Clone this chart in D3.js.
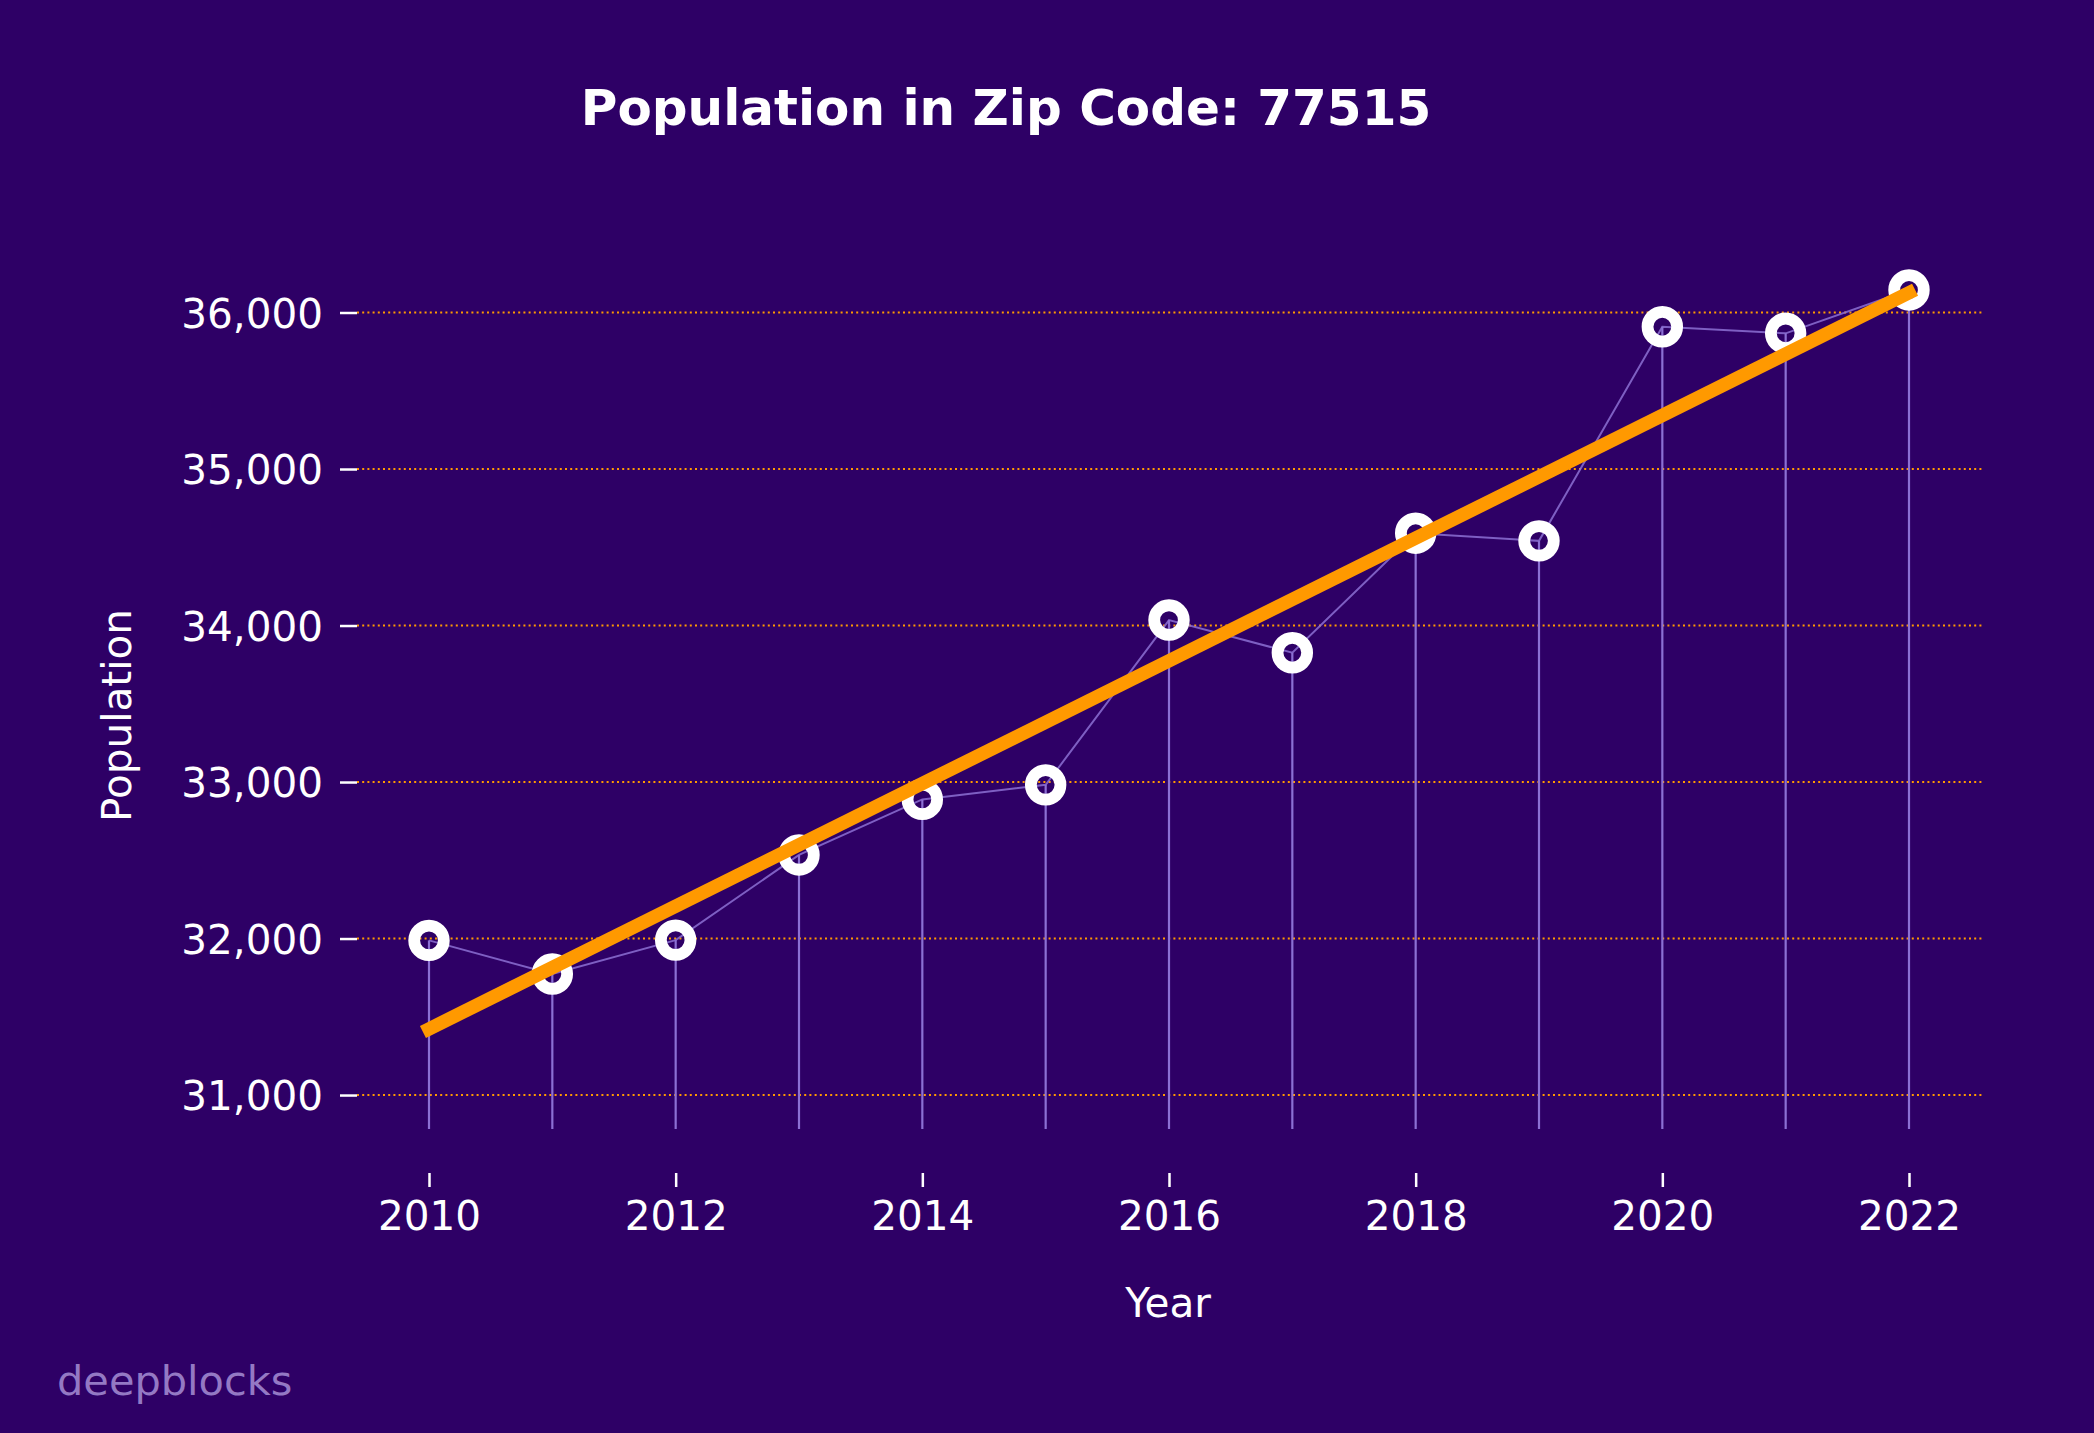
<!DOCTYPE html>
<html>
<head>
<meta charset="utf-8">
<script src="https://cdn.jsdelivr.net/npm/d3@7"></script>
<style>
  html, body { margin: 0; padding: 0; background: #2e0066; }
  svg { display: block; }
  text { font-family: "DejaVu Sans", sans-serif; }
</style>
</head>
<body>
<svg id="chart" width="2094" height="1433"></svg>
<script>
// ---- data ----
const years = [2010, 2011, 2012, 2013, 2014, 2015, 2016, 2017, 2018, 2019, 2020, 2021, 2022];
const population = [31988, 31773, 31990, 32534, 32889, 32982, 34035, 33826, 34590, 34541, 35909, 35867, 36144];
const yTickValues = [31000, 32000, 33000, 34000, 35000, 36000];
const xTickValues = [2010, 2012, 2014, 2016, 2018, 2020, 2022];
const titleText = "Population in Zip Code: 77515";
const xLabel = "Year";
const yLabel = "Population";
const watermark = "deepblocks";

// ---- layout ----
const W = 2094, H = 1433;
const plot = { left: 355, right: 1983, top: 218.6, bottom: 1129 };
const bg = "#2e0066";
const orange = "#ff9900";
const stemColor = "#8c70d4";
const fs = 40.5;

const svg = d3.select("#chart");
svg.append("rect").attr("width", W).attr("height", H).attr("fill", bg);

const x = d3.scaleLinear().domain([2009.4, 2022.6]).range([plot.left, plot.right]);
const y = d3.scaleLinear().domain([30783, 36600]).range([plot.bottom, plot.top]);

// gridlines
svg.append("g").selectAll("line").data(yTickValues).join("line")
  .attr("x1", plot.left + 2).attr("x2", plot.right)
  .attr("y1", d => y(d)).attr("y2", d => y(d))
  .attr("stroke", orange).attr("stroke-width", 2)
  .attr("stroke-dasharray", "2,3.2");

// y axis (ticks + labels, no spine)
const yAxis = d3.axisLeft(y).tickValues(yTickValues)
  .tickFormat(d3.format(",")).tickSize(17).tickPadding(17);
const gy = svg.append("g").attr("transform", `translate(${plot.left + 2},0)`).call(yAxis);
gy.select(".domain").remove();
gy.selectAll(".tick line").attr("stroke", "#ffffff").attr("stroke-width", 2.5);
gy.selectAll(".tick text").attr("fill", "#ffffff").attr("font-size", fs)
  .attr("font-family", "DejaVu Sans, sans-serif").attr("dy", "0.36em");

// x axis (offset below plot)
const xAxis = d3.axisBottom(x).tickValues(xTickValues)
  .tickFormat(d3.format("d")).tickSize(14).tickPadding(14);
const gx = svg.append("g").attr("transform", `translate(0,1173)`).call(xAxis);
gx.select(".domain").remove();
gx.selectAll(".tick line").attr("stroke", "#ffffff").attr("stroke-width", 2.5);
gx.selectAll(".tick text").attr("fill", "#ffffff").attr("font-size", fs)
  .attr("font-family", "DejaVu Sans, sans-serif").attr("dy", "0.71em");

// stems
svg.append("g").selectAll("line").data(years).join("line")
  .attr("x1", d => x(d)).attr("x2", d => x(d))
  .attr("y1", (d, i) => y(population[i])).attr("y2", plot.bottom)
  .attr("stroke", stemColor).attr("stroke-width", 2.2);

// connecting line
const pts = years.map((d, i) => [x(d), y(population[i])]);
svg.append("path").attr("d", d3.line()(pts))
  .attr("fill", "none").attr("stroke", stemColor).attr("stroke-width", 2)
  .attr("stroke-opacity", 0.85);

// markers (rings)
svg.append("g").selectAll("circle").data(pts).join("circle")
  .attr("cx", d => d[0]).attr("cy", d => d[1]).attr("r", 14.8)
  .attr("fill", "none").attr("stroke", "#ffffff").attr("stroke-width", 11.8);

// trend line (least squares fit of the data)
const mx = d3.mean(years), my = d3.mean(population);
const slope = d3.sum(years, (d, i) => (d - mx) * (population[i] - my)) /
              d3.sum(years, d => (d - mx) * (d - mx));
const icpt = my - slope * mx;
const x0 = years[0], x1 = years[years.length - 1];
svg.append("line")
  .attr("x1", x(x0)).attr("y1", y(icpt + slope * x0))
  .attr("x2", x(x1)).attr("y2", y(icpt + slope * x1))
  .attr("stroke", orange).attr("stroke-width", 13.5).attr("stroke-linecap", "square");

// title
svg.append("text").attr("x", 1006).attr("y", 125)
  .attr("text-anchor", "middle").attr("fill", "#ffffff")
  .attr("font-size", 50).attr("font-weight", "bold").text(titleText);

// axis labels
svg.append("text").attr("x", 1168).attr("y", 1317)
  .attr("text-anchor", "middle").attr("fill", "#ffffff")
  .attr("font-size", fs).text(xLabel);
svg.append("text").attr("transform", "translate(131,715.5) rotate(-90)")
  .attr("text-anchor", "middle").attr("fill", "#ffffff")
  .attr("font-size", fs).text(yLabel);

// watermark
svg.append("text").attr("x", 57).attr("y", 1395)
  .attr("fill", "#9479c4").attr("font-size", 41.5).text(watermark);
</script>
</body>
</html>
